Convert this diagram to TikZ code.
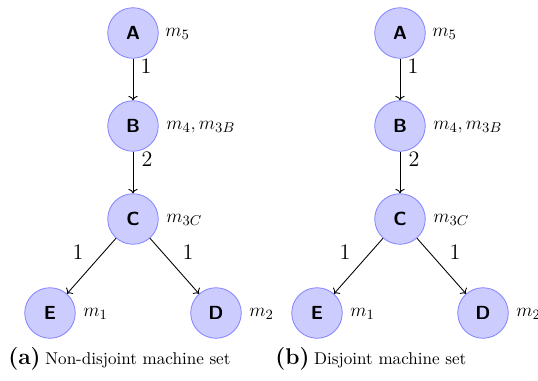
\documentclass[tikz,border=0pt]{standalone}
\usetikzlibrary{arrows.meta}
\begin{document}
\begin{tikzpicture}[x=0.633pt,y=-0.633pt,
  vtx/.style={circle,draw=blue!50,fill=blue!20,line width=0.5pt,minimum size=32pt,inner sep=0pt,font=\sffamily\bfseries\large},
  mlabel/.style={anchor=west,inner sep=0pt,font=\fontsize{12.8}{15}\selectfont},
  elabel/.style={inner sep=0pt,font=\fontsize{14}{17}\selectfont},
  edge/.style={->,line width=0.55pt},
  capt/.style={anchor=west,inner sep=0pt}]
\useasboundingbox (0,0) rectangle (538,381);
% two copies of the same tree
\foreach \dx/\cp/\ct in {0/a/Non-disjoint machine set, 267/b/Disjoint machine set}{
  \begin{scope}[xshift=\dx*0.633pt]
    \node[vtx] (A\cp) at (133,33) {A};
    \node[vtx] (B\cp) at (133,126) {B};
    \node[vtx] (C\cp) at (133,219) {C};
    \node[vtx] (E\cp) at (50,313) {E};
    \node[vtx] (D\cp) at (216,313) {D};
    \node[mlabel] (mA\cp) at (165,34) {$m_5$};
    \node[mlabel] (mB\cp) at (166,127) {$m_4, m_{3B}$};
    \node[mlabel] (mC\cp) at (166,220) {$m_{3C}$};
    \node[mlabel] (mE\cp) at (83,314) {$m_1$};
    \node[mlabel] (mD\cp) at (249,314) {$m_2$};
    \draw[edge] (A\cp) -- (B\cp);
    \draw[edge] (B\cp) -- (C\cp);
    \draw[edge] (C\cp) -- (E\cp);
    \draw[edge] (C\cp) -- (D\cp);
    \node[elabel] (lAB\cp) at (146,66) {1};
    \node[elabel] (lBC\cp) at (147,159) {2};
    \node[elabel] (lCE\cp) at (78,252) {1};
    \node[elabel] (lCD\cp) at (188,252) {1};
    \node[capt] (cap\cp) at (8,359) {\fontsize{14.4}{17}\selectfont\textbf{(\cp)}\hspace{3pt}\fontsize{10.8}{13}\selectfont\ct};
  \end{scope}
}
\end{tikzpicture}
\end{document}
